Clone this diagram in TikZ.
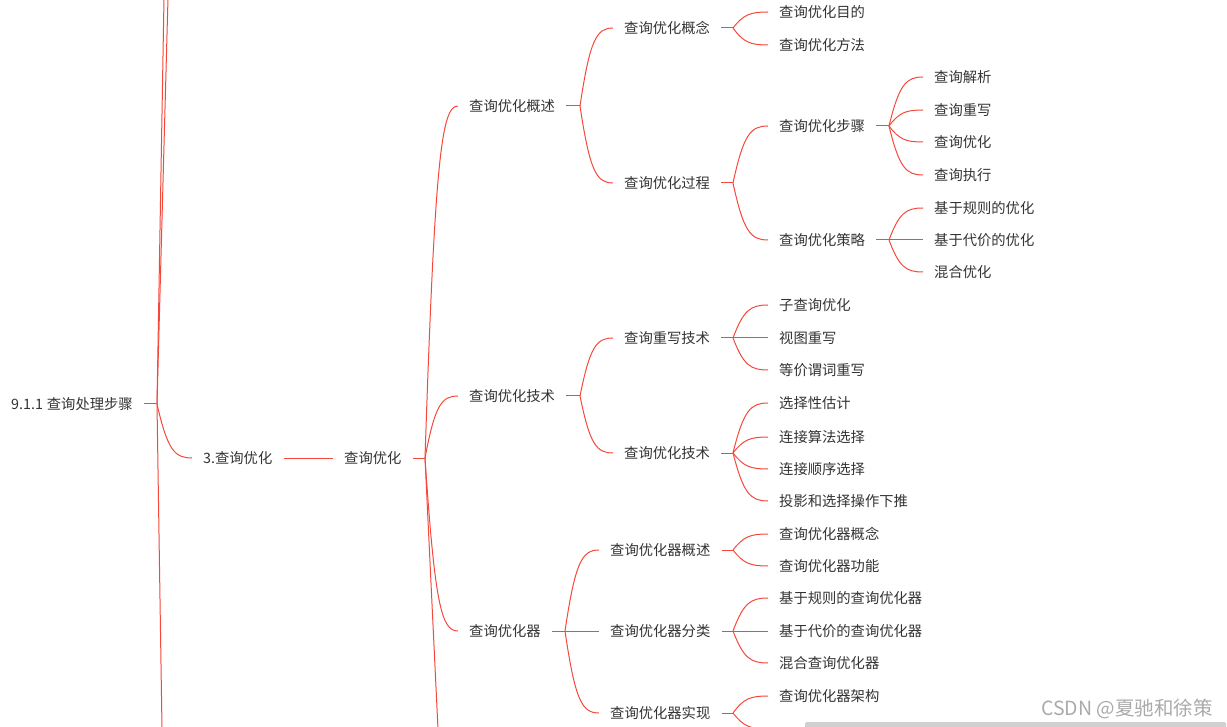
\documentclass[tikz,border=0pt]{standalone}
\usepackage{fontspec}
\setmainfont{Noto Sans CJK SC}
\usepackage{xcolor}
\usepackage{tikz}
\usetikzlibrary{calc}
\definecolor{linered}{RGB}{245,72,58}
\definecolor{textgray}{RGB}{51,51,51}
\definecolor{markgray}{RGB}{170,170,170}
\definecolor{bargray}{RGB}{208,208,208}

\begin{document}
\begin{tikzpicture}[x=1pt, y=-1pt,
        topic/.style={anchor=west, inner xsep=11pt, inner ysep=2pt, text=textgray,
                      font=\fontsize{14.3}{17}\selectfont},
        link/.style={draw=linered, line width=1pt},
        branch/.style={link, to path={let \p1=(\tikztostart), \p2=(\tikztotarget) in
            .. controls ({\x1+0.3*(\x2-\x1)}, {\y1+0.85*(\y2-\y1)}) and ({0.5*(\x1+\x2)}, \y2) .. (\tikztotarget)}}
    ]
        \useasboundingbox (0,0) rectangle (1227,727);
        \clip (0,0) rectangle (1227,727);

        % 根节点
        \node[topic] (root) at (0,404) {9.1.1\hspace{4pt}查询处理步骤};
        \coordinate (root-j) at (157,404);
        \coordinate (root-up1) at (164,-2);
        \coordinate (root-up2) at (168,-2);
        \coordinate (root-down) at (162,729);
        \node[topic] (opt3) at (192,458) {3.查询优化};
        \node[topic] (opt) at (333,458) {查询优化};
        \coordinate (opt-j) at (425,458);
        \coordinate (opt-down) at (438,729);

        \draw[link] (root) -- (root-j);
        \draw[link] (root-j) -- (root-up1);
        \draw[link] (root-j) -- (root-up2);
        \draw[link] (root-j) -- (root-down);
        \draw[branch] (root-j) to (opt3.west);
        \draw[link] (opt3) -- (opt);
        \draw[link] (opt) -- (opt-j);
        \draw[link] (opt-j) -- (opt-down);

        % 第三层
        \node[topic] (intro) at (458,106) {查询优化概述};
        \node[topic] (tech) at (458,396) {查询优化技术};
        \node[topic] (optimizer) at (458,631) {查询优化器};
        \coordinate (intro-j) at (580,106);
        \coordinate (tech-j) at (580,396);
        \coordinate (optimizer-j) at (565,631);
        \foreach \nm in {intro, tech, optimizer} {
            \draw[branch] (opt-j) to (\nm.west);
            \draw[link] (\nm) -- (\nm-j);
        }

        % 查询优化概述
        \node[topic] (concept) at (613,28) {查询优化概念};
        \node[topic] (process) at (613,183) {查询优化过程};
        \coordinate (concept-j) at (733,28);
        \coordinate (process-j) at (733,183);
        \foreach \nm in {concept, process} {
            \draw[branch] (intro-j) to (\nm.west);
            \draw[link] (\nm) -- (\nm-j);
        }
        \foreach \py/\t [count=\i] in {12/查询优化目的, 45/查询优化方法} {
            \node[topic] (concept-\i) at (768,\py) {\t};
            \draw[branch] (concept-j) to (concept-\i.west);
        }
        \node[topic] (stepsbox) at (768,126) {查询优化步骤};
        \node[topic] (strategy) at (768,240) {查询优化策略};
        \coordinate (stepsbox-j) at (889,126);
        \coordinate (strategy-j) at (889,240);
        \foreach \nm in {stepsbox, strategy} {
            \draw[branch] (process-j) to (\nm.west);
            \draw[link] (\nm) -- (\nm-j);
        }
        \foreach \py/\t [count=\i] in {77/查询解析, 110/查询重写, 142/查询优化, 175/查询执行} {
            \node[topic] (stepsbox-\i) at (923,\py) {\t};
            \draw[branch] (stepsbox-j) to (stepsbox-\i.west);
        }
        \foreach \py/\t/\sty [count=\i] in {208/基于规则的优化/branch, 240/基于代价的优化/link, 272/混合优化/branch} {
            \node[topic] (strategy-\i) at (923,\py) {\t};
            \draw[\sty] (strategy-j) to (strategy-\i.west);
        }

        % 查询优化技术
        \node[topic] (rewrite) at (613,338) {查询重写技术};
        \node[topic] (method) at (613,453) {查询优化技术};
        \coordinate (rewrite-j) at (733,338);
        \coordinate (method-j) at (733,453);
        \foreach \nm in {rewrite, method} {
            \draw[branch] (tech-j) to (\nm.west);
            \draw[link] (\nm) -- (\nm-j);
        }
        \foreach \py/\t/\sty [count=\i] in {305/子查询优化/branch, 338/视图重写/link, 370/等价谓词重写/branch} {
            \node[topic] (rewrite-\i) at (768,\py) {\t};
            \draw[\sty] (rewrite-j) to (rewrite-\i.west);
        }
        \foreach \py/\t [count=\i] in {403/选择性估计, 437/连接算法选择, 469/连接顺序选择, 501/投影和选择操作下推} {
            \node[topic] (method-\i) at (768,\py) {\t};
            \draw[branch] (method-j) to (method-\i.west);
        }

        % 查询优化器
        \node[topic] (overview) at (599,550) {查询优化器概述};
        \node[topic] (kinds) at (599,631) {查询优化器分类};
        \node[topic] (impl) at (599,713) {查询优化器实现};
        \coordinate (overview-j) at (733,550);
        \coordinate (kinds-j) at (733,631);
        \coordinate (impl-j) at (733,713);
        \foreach \nm/\sty in {overview/branch, kinds/link, impl/branch} {
            \draw[\sty] (optimizer-j) to (\nm.west);
            \draw[link] (\nm) -- (\nm-j);
        }
        \foreach \py/\t [count=\i] in {534/查询优化器概念, 566/查询优化器功能} {
            \node[topic] (overview-\i) at (768,\py) {\t};
            \draw[branch] (overview-j) to (overview-\i.west);
        }
        \foreach \py/\t/\sty [count=\i] in {598/基于规则的查询优化器/branch, 631/基于代价的查询优化器/link, 663/混合查询优化器/branch} {
            \node[topic] (kinds-\i) at (768,\py) {\t};
            \draw[\sty] (kinds-j) to (kinds-\i.west);
        }
        \node[topic] (impl-1) at (768,696) {查询优化器架构};
        \coordinate (impl-2) at (768,729);
        \draw[branch] (impl-j) to (impl-1.west);
        \draw[branch] (impl-j) to (impl-2);

        % 水印与滚动条
        \fill[bargray, rounded corners=2pt] (805,722) rectangle (1226,730);
        \node[anchor=west, inner sep=0pt, text=markgray, font=\fontsize{19.5}{22}\selectfont]
            (mark) at (1041,709) {CSDN @夏驰和徐策};
\end{tikzpicture}
\end{document}
